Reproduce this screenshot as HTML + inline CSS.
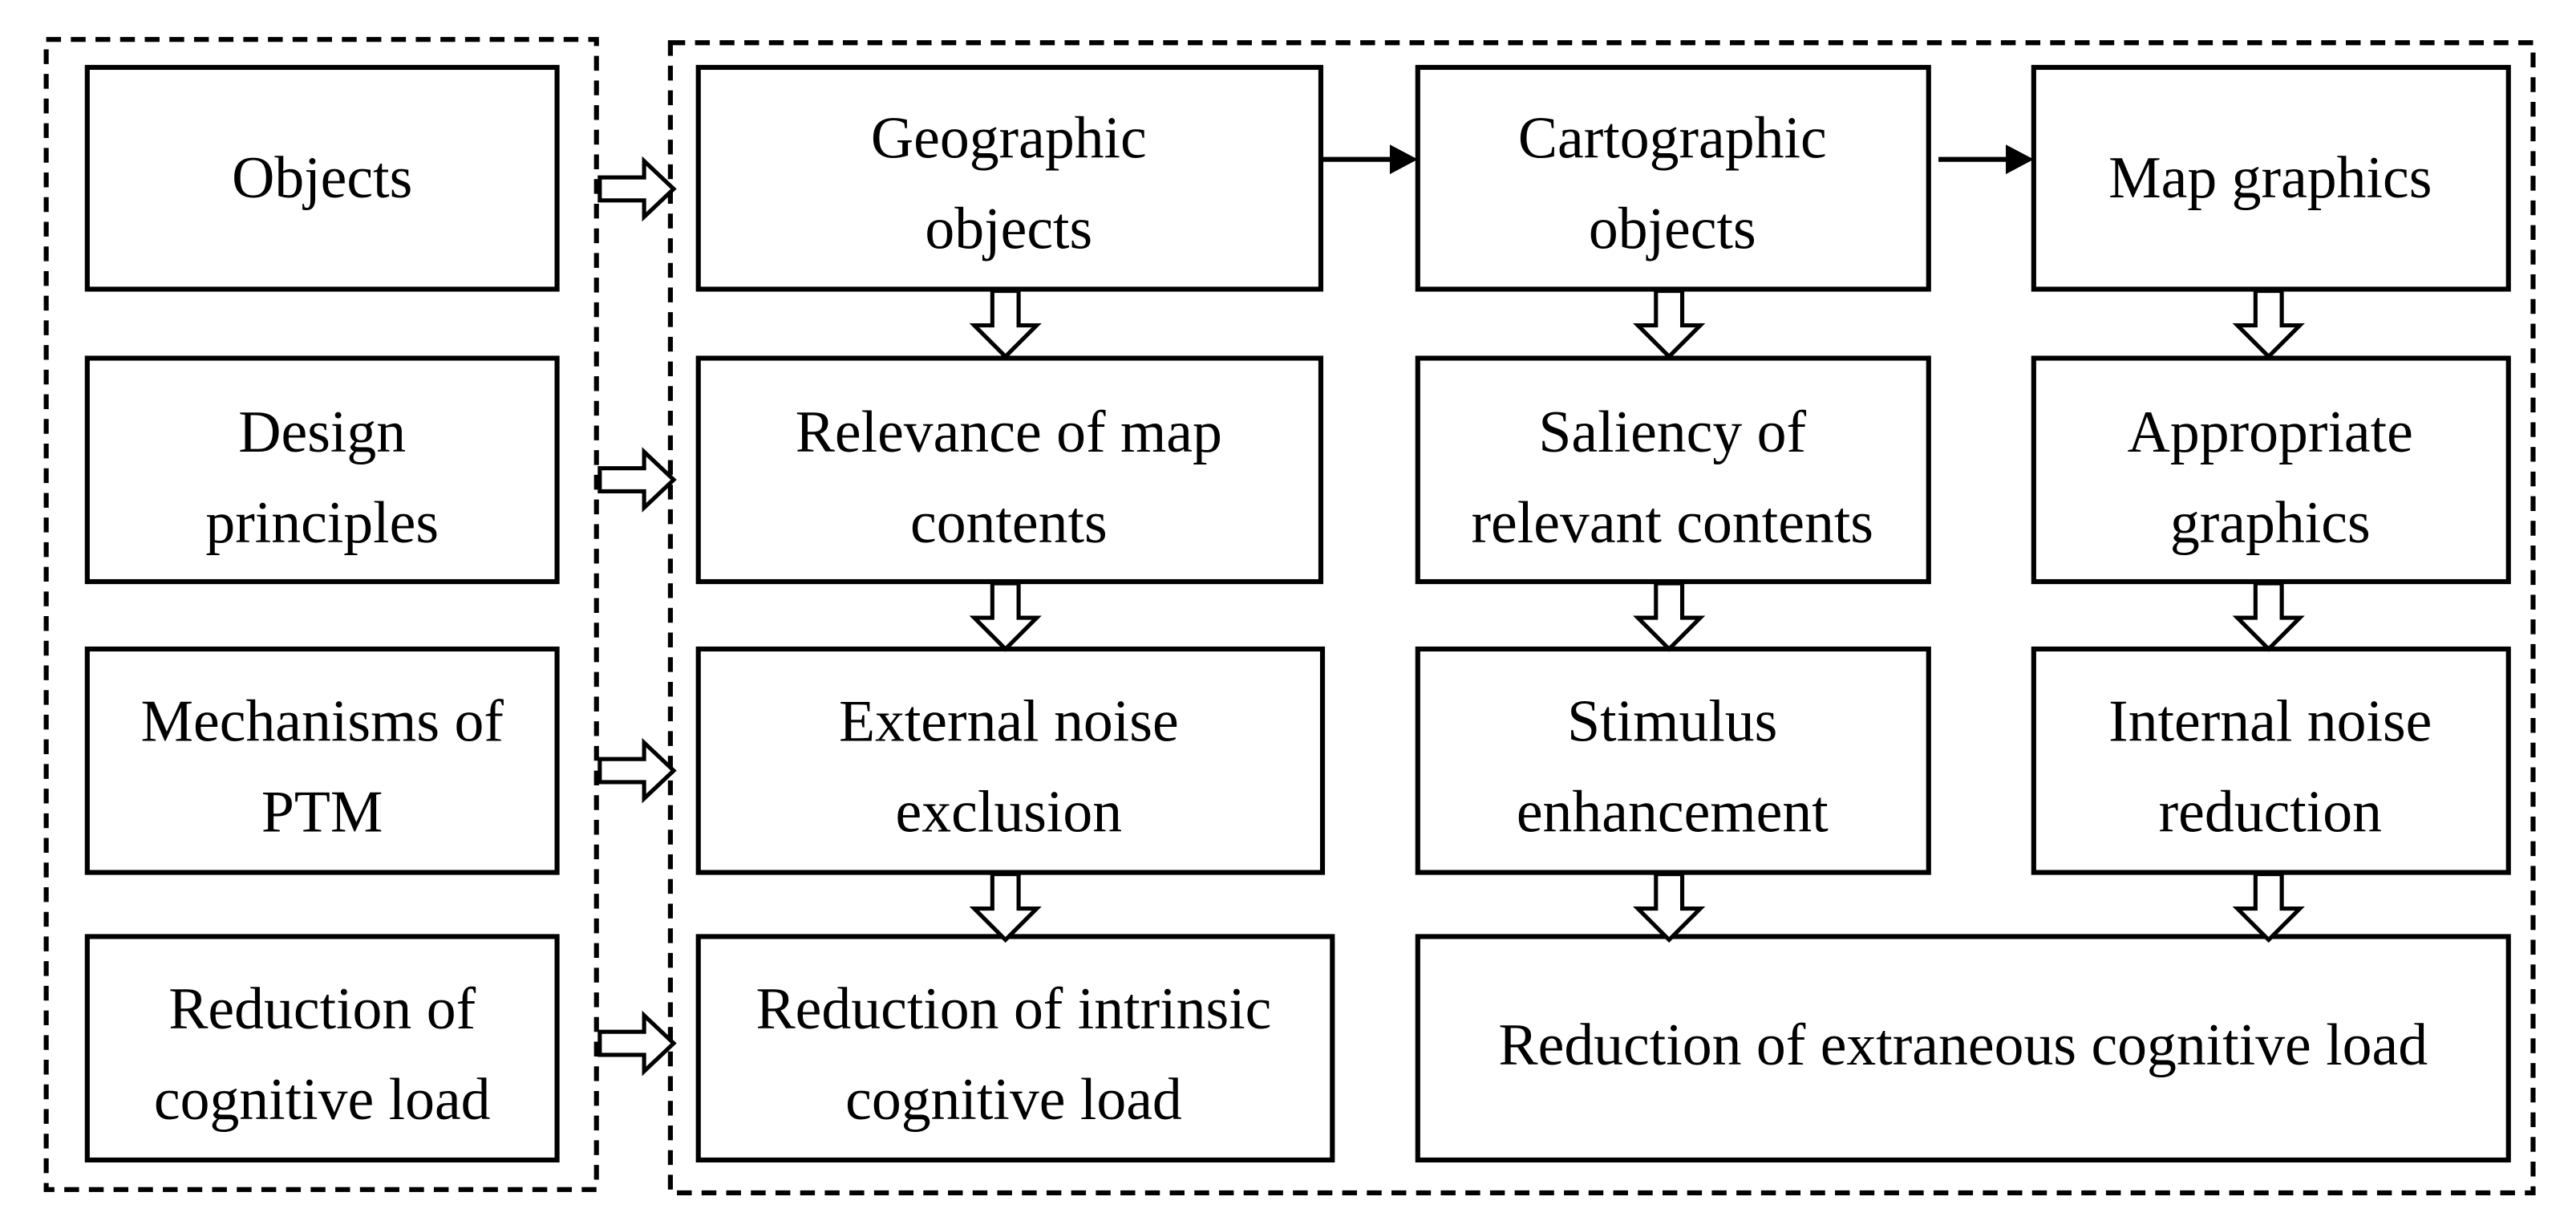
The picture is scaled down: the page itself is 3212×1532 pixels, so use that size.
<!DOCTYPE html>
<html><head><meta charset="utf-8"><style>
html,body{margin:0;padding:0;background:#fff;}
svg{display:block;}
text{font-family:"Liberation Serif",serif;font-size:36px;fill:#000;text-anchor:middle;}
</style></head><body>
<svg width="3212" height="1532" viewBox="0 0 1568 748" xmlns="http://www.w3.org/2000/svg">
<defs>
<marker id="ah" markerWidth="10" markerHeight="10" refX="9" refY="5" orient="auto" markerUnits="userSpaceOnUse" viewBox="0 0 10 10"><path d="M0,0 L10,5 L0,10 z" fill="#000" transform="scale(1)"/></marker>
<g id="ra"><path d="M0,-7 H27 V-17 L45,0 L27,17 V7 H0 Z" fill="#fff" stroke="#000" stroke-width="2.5"/></g>
<g id="da"><path d="M-8,0 V21 H-19 L0,40 L19,21 H8 V0 Z" fill="#fff" stroke="#000" stroke-width="2.5"/></g>
</defs>
<g fill="none" stroke="#000" stroke-width="3" stroke-dasharray="9,6">
<rect x="28" y="24" width="335" height="700"/>
<rect x="408" y="26" width="1134" height="700"/>
</g>
<g fill="#fff" stroke="#000" stroke-width="3">
<rect x="53" y="41" width="286" height="135"/>
<rect x="53" y="218" width="286" height="136"/>
<rect x="53" y="395" width="286" height="136"/>
<rect x="53" y="570" width="286" height="136"/>
<rect x="425" y="41" width="379" height="135"/>
<rect x="425" y="218" width="379" height="136"/>
<rect x="425" y="395" width="380" height="136"/>
<rect x="425" y="570" width="386" height="136"/>
<rect x="863" y="41" width="311" height="135"/>
<rect x="863" y="218" width="311" height="136"/>
<rect x="863" y="395" width="311" height="136"/>
<rect x="1238" y="41" width="289" height="135"/>
<rect x="1238" y="218" width="289" height="136"/>
<rect x="1238" y="395" width="289" height="136"/>
<rect x="863" y="570" width="664" height="136"/>
</g>
<!-- solid arrows -->
<g stroke="#000" stroke-width="3">
<line x1="804" y1="97" x2="850" y2="97"/>
<line x1="1180" y1="97" x2="1226" y2="97"/>
</g>
<path d="M846,88 L863,97 L846,106 Z"/>
<path d="M1221,88 L1238,97 L1221,106 Z"/>
<!-- hollow right arrows -->
<use href="#ra" x="365" y="115"/>
<use href="#ra" x="365" y="292"/>
<use href="#ra" x="365" y="469"/>
<use href="#ra" x="365" y="635"/>
<!-- down arrows -->
<use href="#da" x="612" y="177"/>
<use href="#da" x="612" y="355"/>
<use href="#da" x="612" y="532"/>
<use href="#da" x="1016" y="177"/>
<use href="#da" x="1016" y="355"/>
<use href="#da" x="1016" y="532"/>
<use href="#da" x="1381" y="177"/>
<use href="#da" x="1381" y="355"/>
<use href="#da" x="1381" y="532"/>
<!-- text -->
<text x="196" y="120">Objects</text>
<text x="196" y="275">Design</text>
<text x="196" y="330">principles</text>
<text x="196" y="451">Mechanisms of</text>
<text x="196" y="506">PTM</text>
<text x="196" y="626">Reduction of</text>
<text x="196" y="681">cognitive load</text>
<text x="614" y="96">Geographic</text>
<text x="614" y="151">objects</text>
<text x="614" y="275">Relevance of map</text>
<text x="614" y="330">contents</text>
<text x="614" y="451">External noise</text>
<text x="614" y="506">exclusion</text>
<text x="617" y="626">Reduction of intrinsic</text>
<text x="617" y="681">cognitive load</text>
<text x="1018" y="96">Cartographic</text>
<text x="1018" y="151">objects</text>
<text x="1018" y="275">Saliency of</text>
<text x="1018" y="330">relevant contents</text>
<text x="1018" y="451">Stimulus</text>
<text x="1018" y="506">enhancement</text>
<text x="1382" y="120">Map graphics</text>
<text x="1382" y="275">Appropriate</text>
<text x="1382" y="330">graphics</text>
<text x="1382" y="451">Internal noise</text>
<text x="1382" y="506">reduction</text>
<text x="1195" y="648">Reduction of extraneous cognitive load</text>
</svg>
</body></html>
